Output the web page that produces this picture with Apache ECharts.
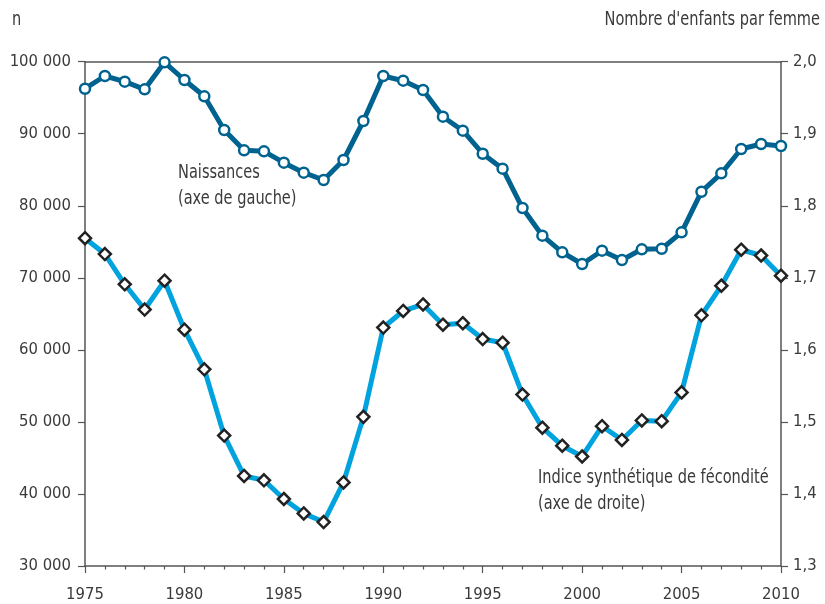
<!DOCTYPE html>
<html><head><meta charset="utf-8">
<script src="https://cdn.jsdelivr.net/npm/echarts@6/dist/echarts.min.js"></script>
<style>html,body{margin:0;padding:0;background:#fff}#c{width:825px;height:604px}</style>
</head><body><div id="c"></div>
<script>
const years = [1975,1976,1977,1978,1979,1980,1981,1982,1983,1984,1985,1986,1987,1988,1989,1990,1991,1992,1993,1994,1995,1996,1997,1998,1999,2000,2001,2002,2003,2004,2005,2006,2007,2008,2009,2010];
const naissances = [96250,98015,97224,96169,99917,97460,95197,90519,87701,87562,85980,84592,83578,86355,91768,98015,97363,96072,92365,90422,87229,85147,79692,75847,73542,71918,73765,72474,73959,74042,76319,81954,84509,87882,88576,88298];
const fecondite = [1.755,1.733,1.691,1.656,1.696,1.628,1.573,1.481,1.425,1.419,1.393,1.373,1.361,1.416,1.507,1.631,1.654,1.663,1.635,1.637,1.615,1.610,1.538,1.492,1.467,1.452,1.494,1.475,1.502,1.501,1.541,1.648,1.689,1.739,1.731,1.703];
const leftTicks = [30000,100000,10000];
const rightTicks = [1.3,2.0,0.1];
const xTicks = [1975,2010,5];

const FONT = "'Liberation Sans Narrow','DejaVu Sans Condensed',sans-serif";
const FS = 16.5;
const TXT = '#3a3a3a';
const AX = '#555';
const SX = 0.81;
const chart = echarts.init(document.getElementById('c'));
const fmtLeft = v => { const s = String(v); return s.length > 3 ? s.slice(0, s.length-3) + ' ' + s.slice(-3) : s; };
chart.setOption({
  animation: false,
  textStyle: {fontFamily: FONT},
  grid: {left: 85, right: 44, top: 61.7, bottom: 38, containLabel: false, outerBoundsMode: 'none'},
  xAxis: [{
    type: 'value', min: xTicks[0], max: xTicks[1], interval: xTicks[2],
    axisLine: {show: true, lineStyle: {color: AX, width: 1.5}},
    axisTick: {show: true, length: 7, lineStyle: {color: AX, width: 1.2}},
    minorTick: {show: true, splitNumber: 5, length: 3.5, lineStyle: {color: AX, width: 1.2}},
    splitLine: {show: false},
    axisLabel: {margin: 20, color: TXT, fontSize: FS, fontFamily: FONT, formatter: v => String(v)}
  }, {
    type: 'value', position: 'top', min: xTicks[0], max: xTicks[1],
    axisLine: {show: true, lineStyle: {color: AX, width: 1.5}},
    axisTick: {show: false}, axisLabel: {show: false}, splitLine: {show: false}
  }],
  yAxis: [{
    type: 'value', min: leftTicks[0], max: leftTicks[1], interval: leftTicks[2],
    axisLine: {show: true, lineStyle: {color: AX, width: 1.5}},
    axisTick: {show: true, length: 7, lineStyle: {color: AX, width: 1.2}},
    splitLine: {show: false},
    axisLabel: {margin: 14, color: TXT, fontSize: FS, fontFamily: FONT, formatter: fmtLeft}
  }, {
    type: 'value', position: 'right', min: rightTicks[0], max: rightTicks[1], interval: rightTicks[2],
    axisLine: {show: true, lineStyle: {color: AX, width: 1.5}},
    axisTick: {show: true, length: 7, lineStyle: {color: AX, width: 1.2}},
    splitLine: {show: false},
    axisLabel: {margin: 12, color: TXT, fontSize: FS, fontFamily: FONT, formatter: v => v.toFixed(1).replace('.', ',')}
  }],
  series: [{
    name: 'Naissances', type: 'line', xAxisIndex: 0, yAxisIndex: 0,
    data: years.map((y, i) => [y, naissances[i]]),
    lineStyle: {color: '#00638f', width: 5},
    symbol: 'circle', symbolSize: 10,
    itemStyle: {color: '#fff', borderColor: '#00638f', borderWidth: 2.5},
    z: 3
  }, {
    name: 'ISF', type: 'line', xAxisIndex: 0, yAxisIndex: 1,
    data: years.map((y, i) => [y, fecondite[i]]),
    lineStyle: {color: '#00a3dd', width: 5},
    symbol: 'diamond', symbolSize: 12,
    itemStyle: {color: '#fff', borderColor: '#222', borderWidth: 2.5},
    z: 3
  }],
  graphic: [
    {type: 'text', x: 12, y: 20, scaleX: SX, style: {text: 'n', font: '20px ' + FONT, fill: TXT, textVerticalAlign: 'middle'}},
    {type: 'text', x: 820, y: 20, scaleX: SX, style: {text: "Nombre d'enfants par femme", font: '20px ' + FONT, fill: TXT, textAlign: 'right', textVerticalAlign: 'middle'}},
    {type: 'text', x: 178, y: 160, scaleX: SX, style: {text: 'Naissances\n(axe de gauche)', font: '20px ' + FONT, fill: TXT, lineHeight: 26, textVerticalAlign: 'top'}},
    {type: 'text', x: 538, y: 465, scaleX: SX, style: {text: 'Indice synthétique de fécondité\n(axe de droite)', font: '20px ' + FONT, fill: TXT, lineHeight: 26, textVerticalAlign: 'top'}}
  ]
});
</script></body></html>
